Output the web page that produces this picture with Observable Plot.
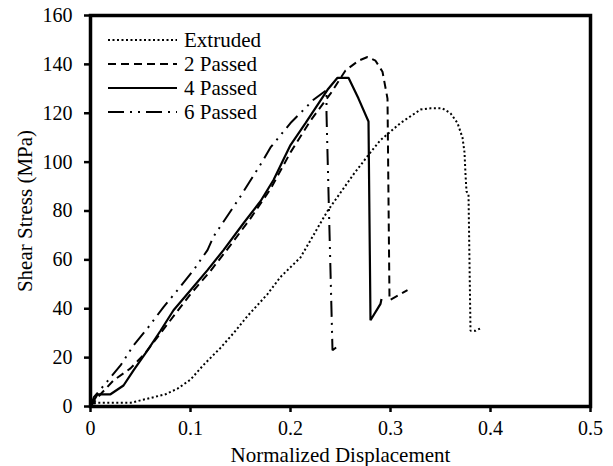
<!DOCTYPE html>
<html>
<head>
<meta charset="utf-8">
<script src="https://cdn.jsdelivr.net/npm/d3@7"></script>
<script src="https://cdn.jsdelivr.net/npm/@observablehq/plot@0.6"></script>
<style>
  html, body { margin: 0; padding: 0; background: #fff; }
  svg { display: block; }
  #chart svg text { font-size: 21px; font-family: 'Liberation Serif', 'Times New Roman', serif; }
  #chart svg g[aria-label="x-axis tick label"] text,
  #chart svg g[aria-label="y-axis tick label"] text { font-size: 20px; }
</style>
</head>
<body>
<div id="chart"></div>
<script>
const seriesNames = ["Extruded", "2 Passed", "4 Passed", "6 Passed"];

const extrudedX = [0, 0.005, 0.02, 0.04, 0.05, 0.06, 0.075, 0.087, 0.1, 0.113, 0.13, 0.143, 0.157, 0.177, 0.19, 0.21, 0.237, 0.263, 0.28, 0.29, 0.31, 0.33, 0.34, 0.352, 0.36, 0.367, 0.372, 0.374, 0.375, 0.376, 0.378, 0.38, 0.385, 0.39];
const extrudedY = [0, 1.5, 1.5, 1.5, 2.5, 3.5, 5, 7.3, 11, 17, 24, 30, 37, 46, 53, 61, 80, 95, 104, 109, 116, 121.5, 122, 122, 120, 116, 110, 104, 95, 88, 87, 31, 31, 32];

const pass2X = [0, 0.01, 0.023, 0.04, 0.055, 0.07, 0.085, 0.1, 0.12, 0.14, 0.16, 0.18, 0.2, 0.22, 0.24, 0.255, 0.268, 0.277, 0.285, 0.292, 0.297, 0.299, 0.317];
const pass2Y = [0, 5, 10.7, 15.6, 22, 30, 38, 46, 55.5, 66, 77, 89, 104, 117, 128, 137.5, 141.5, 143, 141.5, 137, 126, 43.5, 47.6];

const pass4X = [0, 0.007, 0.02, 0.033, 0.043, 0.057, 0.07, 0.083, 0.1, 0.117, 0.133, 0.153, 0.17, 0.183, 0.2, 0.215, 0.237, 0.247, 0.258, 0.268, 0.278, 0.28, 0.29, 0.291];
const pass4Y = [0, 5, 5, 8.6, 14.8, 23, 31, 39.4, 47.6, 55.8, 64, 75, 84, 92.7, 107, 116, 129.6, 134.5, 134.5, 126, 116.6, 35.3, 42, 44];

const pass6X = [0, 0.0033, 0.015, 0.03, 0.043, 0.057, 0.073, 0.087, 0.103, 0.117, 0.123, 0.15, 0.173, 0.18, 0.2, 0.223, 0.236, 0.236, 0.242, 0.25];
const pass6Y = [0, 3.8, 9.4, 16.8, 25, 32, 40.7, 47.6, 55.8, 64, 69.5, 86, 101, 106, 116, 125.5, 129.5, 120, 23, 25.5];

const xTicks = [0, 0.1, 0.2, 0.3, 0.4, 0.5];
const yTicks = [0, 20, 40, 60, 80, 100, 120, 140, 160];

const styles = {
  "Extruded": {dash: "2 2.5", width: 2},
  "2 Passed": {dash: "8 5", width: 2},
  "4 Passed": {dash: null, width: 2.2},
  "6 Passed": {dash: "16 6 2 6 2 6", width: 2}
};

const seriesXY = [[extrudedX, extrudedY], [pass2X, pass2Y], [pass4X, pass4Y], [pass6X, pass6Y]];
const tables = seriesNames.map((name, i) =>
  seriesXY[i][0].map((x, j) => ({series: name, x, y: seriesXY[i][1][j]})));

const font = "'Liberation Serif', 'Times New Roman', serif";

const lineMarks = tables.map((t, i) => {
  const st = styles[seriesNames[i]];
  return Plot.line(t, {x: "x", y: "y", stroke: "black", strokeWidth: st.width,
    strokeDasharray: st.dash, strokeLinejoin: "miter", strokeLinecap: "butt"});
});

const plot = Plot.plot({
  width: 613,
  height: 466,
  marginLeft: 90,
  marginRight: 23,
  marginTop: 15,
  marginBottom: 60,
  style: {fontFamily: font, fontSize: "21px", background: "white", color: "black"},
  x: {domain: [0, 0.5]},
  y: {domain: [0, 160]},
  marks: [
    ...lineMarks,
    Plot.frame({stroke: "black", strokeWidth: 3.5}),
    Plot.axisX({ticks: xTicks, tickFormat: d => String(d), tickSize: 6, tickPadding: 8,
      strokeWidth: 2.5, label: "Normalized Displacement", labelAnchor: "center",
      labelArrow: "none", labelOffset: 55}),
    Plot.axisY({ticks: yTicks, tickFormat: d => String(d), tickSize: 6, tickPadding: 12,
      strokeWidth: 2.5, label: "Shear Stress (MPa)", labelAnchor: "center",
      labelArrow: "none", labelOffset: 73})
  ]
});

document.getElementById("chart").appendChild(plot);

// legend (inside plot, top-left)
const svg = d3.select(plot);
const lg = svg.append("g").attr("text-anchor", "start");
seriesNames.forEach((name, i) => {
  const yy = 40 + i * 24;
  const st = styles[name];
  lg.append("line").attr("x1", 108).attr("x2", 177).attr("y1", yy).attr("y2", yy)
    .attr("stroke", "black").attr("stroke-width", st.width)
    .attr("stroke-dasharray", st.dash);
  lg.append("text").attr("x", 184).attr("y", yy).attr("dy", "0.35em").text(name);
});
</script>
</body>
</html>
